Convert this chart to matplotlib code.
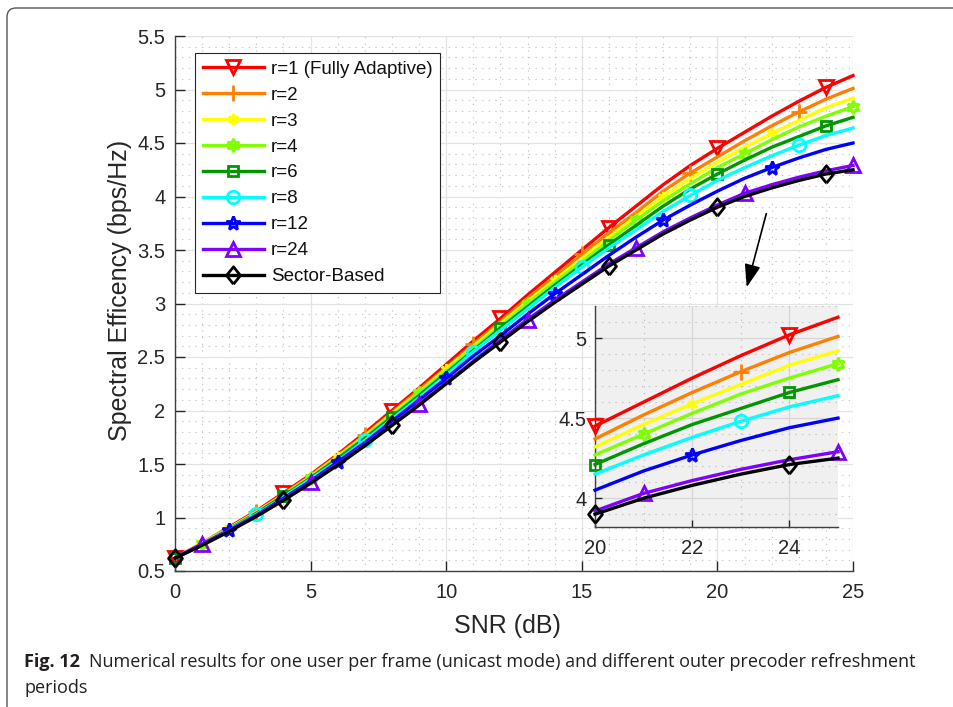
import numpy as np
import matplotlib
matplotlib.use("Agg")
import matplotlib.pyplot as plt
from matplotlib.lines import Line2D
from matplotlib.patches import FancyBboxPatch
from matplotlib.ticker import MultipleLocator, FuncFormatter

# SNR grid (dB)
snr = list(range(26))

labels = ["r=1 (Fully Adaptive)", "r=2", "r=3", "r=4", "r=6", "r=8",
          "r=12", "r=24", "Sector-Based"]

# spectral efficiency (bps/Hz)
se_r1 = [0.62, 0.76, 0.91, 1.06, 1.23, 1.40, 1.59, 1.79, 2.00, 2.21, 2.43, 2.65, 2.86,
         3.08, 3.29, 3.50, 3.71, 3.91, 4.11, 4.29, 4.45, 4.60, 4.75, 4.89, 5.02, 5.13]
se_r2 = [0.62, 0.76, 0.90, 1.05, 1.22, 1.39, 1.58, 1.77, 1.98, 2.19, 2.40, 2.62, 2.83,
         3.05, 3.25, 3.46, 3.66, 3.85, 4.05, 4.22, 4.37, 4.52, 4.66, 4.79, 4.91, 5.01]
se_r3 = [0.62, 0.76, 0.90, 1.05, 1.21, 1.38, 1.57, 1.76, 1.97, 2.17, 2.39, 2.60, 2.81,
         3.02, 3.22, 3.42, 3.62, 3.81, 4.00, 4.17, 4.32, 4.46, 4.59, 4.71, 4.83, 4.92]
se_r4 = [0.62, 0.75, 0.90, 1.04, 1.21, 1.37, 1.56, 1.75, 1.95, 2.16, 2.37, 2.58, 2.79,
         3.00, 3.20, 3.39, 3.59, 3.78, 3.96, 4.12, 4.27, 4.40, 4.53, 4.65, 4.75, 4.84]
se_r6 = [0.62, 0.75, 0.89, 1.04, 1.20, 1.37, 1.55, 1.74, 1.94, 2.14, 2.35, 2.56, 2.77,
         2.97, 3.17, 3.36, 3.55, 3.73, 3.91, 4.07, 4.21, 4.34, 4.46, 4.56, 4.66, 4.74]
se_r8 = [0.62, 0.75, 0.89, 1.03, 1.19, 1.36, 1.53, 1.72, 1.92, 2.12, 2.33, 2.55, 2.75,
         2.95, 3.15, 3.34, 3.52, 3.69, 3.86, 4.01, 4.15, 4.27, 4.38, 4.48, 4.57, 4.64]
se_r12 = [0.62, 0.75, 0.88, 1.02, 1.18, 1.34, 1.52, 1.70, 1.90, 2.10, 2.30, 2.51, 2.70,
          2.90, 3.09, 3.27, 3.45, 3.62, 3.78, 3.92, 4.05, 4.17, 4.27, 4.36, 4.44, 4.50]
se_r24 = [0.62, 0.75, 0.88, 1.02, 1.17, 1.33, 1.50, 1.68, 1.87, 2.06, 2.26, 2.46, 2.66,
          2.85, 3.03, 3.20, 3.37, 3.52, 3.67, 3.80, 3.92, 4.03, 4.11, 4.18, 4.24, 4.29]
se_sector = [0.62, 0.74, 0.87, 1.01, 1.16, 1.32, 1.49, 1.67, 1.86, 2.05, 2.25, 2.45, 2.64,
             2.83, 3.01, 3.18, 3.35, 3.50, 3.65, 3.78, 3.90, 4.00, 4.08, 4.15, 4.21, 4.25]

series = [se_r1, se_r2, se_r3, se_r4, se_r6, se_r8, se_r12, se_r24, se_sector]

# styles
diamond = [(0, -1), (0.8, 0), (0, 1), (-0.8, 0), (0, -1)]
colors = ["#ff0000", "#ff8000", "#ffff00", "#80ff00", "#009600", "#00ffff",
          "#0000ff", "#8000ff", "#000000"]
markers = ["v", "+", (6, 2, 0), (6, 1, 0), "s", "o", "*", "^", diamond]
msizes = [10, 11, 8, 9.5, 7.5, 9, 10, 9.5, 12.5]
mark_start = [0, 3, 2, 1, 0, 3, 2, 1, 0]

plt.rcParams["font.family"] = ["Liberation Sans", "DejaVu Sans"]
TXT = "#262626"

fig = plt.figure(figsize=(9.54, 7.07), dpi=100)
W, H = 954, 707

ax = fig.add_axes([175 / W, 1 - 571 / H, 678 / W, 535 / H])
axi = fig.add_axes([595 / W, 1 - 527 / H, 243 / W, 221 / H])


def style_axes(a, face, major_c, minor_c):
    a.set_facecolor(face)
    for s in ["top", "right"]:
        a.spines[s].set_visible(False)
    for s in ["left", "bottom"]:
        a.spines[s].set_color("#404040")
        a.spines[s].set_linewidth(1.0)
    a.grid(True, which="major", color=major_c, linewidth=0.9, linestyle="-")
    a.grid(True, which="minor", color=minor_c, linewidth=0.8, linestyle=(0, (1, 5)))
    a.set_axisbelow(True)
    a.tick_params(which="minor", length=0)
    a.yaxis.set_major_formatter(FuncFormatter(lambda v, p: f"{v:g}"))


style_axes(ax, "white", "#e3e3e3", "#bdbdbd")
style_axes(axi, "#f0f0f0", "#d6d6d6", "#b4b4b4")

for y, c, m, ms, k in zip(series, colors, markers, msizes, mark_start):
    ax.plot(snr, y, color=c, lw=2.4, marker=m, ms=ms, mfc="none", mew=2.0,
            markevery=(k, 4), clip_on=False, zorder=3)
    axi.plot(snr[20:], y[20:], color=c, lw=2.4, marker=m, ms=ms, mfc="none", mew=2.0,
             markevery=(k, 4), clip_on=False, zorder=3)

# main axes
ax.set_xlim(0, 25)
ax.set_ylim(0.5, 5.5)
ax.xaxis.set_major_locator(MultipleLocator(5))
ax.xaxis.set_minor_locator(MultipleLocator(1))
ax.yaxis.set_major_locator(MultipleLocator(0.5))
ax.yaxis.set_minor_locator(MultipleLocator(0.1))
ax.tick_params(which="major", direction="in", length=7, width=1, colors=TXT,
               labelsize=14.5)
ax.tick_params(axis="y", pad=7)
ax.tick_params(axis="x", pad=9)
ax.set_xlabel("SNR (dB)", fontsize=18, color=TXT)
ax.set_ylabel("Spectral Efficency (bps/Hz)", fontsize=18, color=TXT)
ax.xaxis.set_label_coords(0.491, -0.08)
ax.yaxis.set_label_coords(-0.063, 0.525)

handles = [Line2D([0], [0], color=c, lw=2.4, marker=m, ms=ms, mfc="none", mew=2.0)
           for c, m, ms in zip(colors, markers, msizes)]
leg = ax.legend(handles, labels, loc="upper left", bbox_to_anchor=(0.0295, 0.968),
                borderaxespad=0, fontsize=13.5, fancybox=False, framealpha=1,
                edgecolor="#262626", handlelength=3.3, handletextpad=0.35,
                labelspacing=0.47, borderpad=0.4)
leg.get_frame().set_linewidth(0.8)
for t in leg.get_texts():
    t.set_color("#111111")

# zoomed inset
axi.set_xlim(20, 25)
axi.set_ylim(3.82, 5.2)
axi.xaxis.set_major_locator(MultipleLocator(2))
axi.xaxis.set_minor_locator(MultipleLocator(1))
axi.yaxis.set_major_locator(MultipleLocator(0.5))
axi.yaxis.set_minor_locator(MultipleLocator(0.1))
axi.tick_params(which="major", direction="in", length=5, width=1, colors=TXT,
                labelsize=14.5)
axi.tick_params(axis="y", pad=6)
axi.tick_params(axis="x", pad=9)

# arrow pointing to the inset
ax.annotate("", xy=(746, H - 290), xytext=(767, H - 211), xycoords="figure pixels",
            textcoords="figure pixels",
            arrowprops=dict(arrowstyle="-|>,head_length=1.0,head_width=0.35",
                            mutation_scale=14, color="black", lw=1.2))

# figure frame with rounded corner
frame = FancyBboxPatch((7, -30), 1000, H - 8 + 30,
                       boxstyle="round,pad=0,rounding_size=9",
                       transform=None, fill=False, ec="#555555", lw=1.0)
fig.add_artist(frame)

# caption
cap_fs = 13.0
cap_font = ["Open Sans", "DejaVu Sans"]
t1 = fig.text(24 / W, 1 - 662 / H, "Fig. 12", fontsize=cap_fs, fontweight="bold",
              family=cap_font, color="#231f20", va="center")
fig.canvas.draw()
bb = t1.get_window_extent()
fig.text((bb.x1 + 9) / W, 1 - 662 / H,
         "Numerical results for one user per frame (unicast mode) and different outer precoder refreshment",
         fontsize=cap_fs, family=cap_font, color="#231f20", va="center")
fig.text(24 / W, 1 - 688 / H, "periods", fontsize=cap_fs, family=cap_font,
         color="#231f20", va="center")

fig.savefig("out.png", dpi=100)
